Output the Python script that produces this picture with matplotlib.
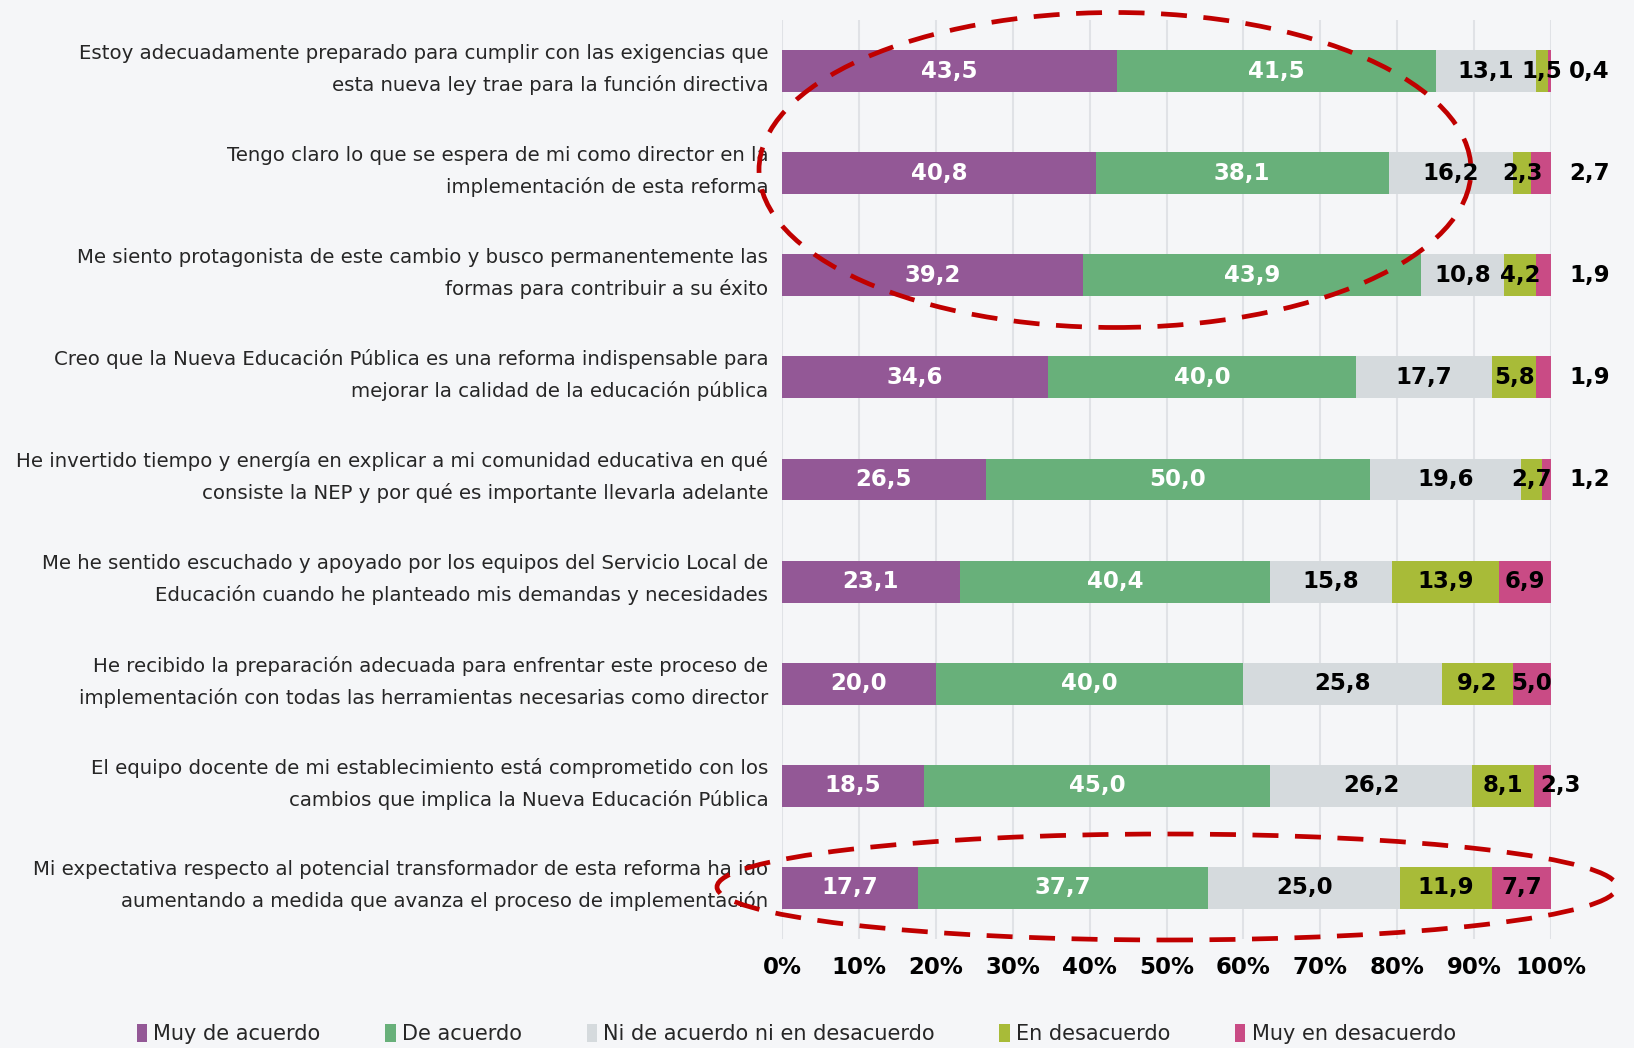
import matplotlib
matplotlib.use('Agg')
import matplotlib.pyplot as plt
from matplotlib import font_manager
from matplotlib.patches import Ellipse, Patch
import matplotlib.transforms as mtransforms
import numpy as np

# Survey statements (top to bottom)
statements = [
    'Estoy adecuadamente preparado para cumplir con las exigencias que\nesta nueva ley trae para la función directiva',
    'Tengo claro lo que se espera de mi como director en la\nimplementación de esta reforma',
    'Me siento protagonista de este cambio y busco permanentemente las\nformas para contribuir a su éxito',
    'Creo que la Nueva Educación Pública es una reforma indispensable para\nmejorar la calidad de la educación pública',
    'He invertido tiempo y energía en explicar a mi comunidad educativa en qué\nconsiste la NEP y por qué es importante llevarla adelante',
    'Me he sentido escuchado y apoyado por los equipos del Servicio Local de\nEducación cuando he planteado mis demandas y necesidades',
    'He recibido la preparación adecuada para enfrentar este proceso de\nimplementación con todas las herramientas necesarias como director',
    'El equipo docente de mi establecimiento está comprometido con los\ncambios que implica la Nueva Educación Pública',
    'Mi expectativa respecto al potencial transformador de esta reforma ha ido\naumentando a medida que avanza el proceso de implementación',
]

categories = ['Muy de acuerdo', 'De acuerdo', 'Ni de acuerdo ni en desacuerdo',
              'En desacuerdo', 'Muy en desacuerdo']

muy_de_acuerdo = [43.5, 40.8, 39.2, 34.6, 26.5, 23.1, 20.0, 18.5, 17.7]
de_acuerdo = [41.5, 38.1, 43.9, 40.0, 50.0, 40.4, 40.0, 45.0, 37.7]
neutral = [13.1, 16.2, 10.8, 17.7, 19.6, 15.8, 25.8, 26.2, 25.0]
en_desacuerdo = [1.5, 2.3, 4.2, 5.8, 2.7, 13.9, 9.2, 8.1, 11.9]
muy_en_desacuerdo = [0.4, 2.7, 1.9, 1.9, 1.2, 6.9, 5.0, 2.3, 7.7]

series = [muy_de_acuerdo, de_acuerdo, neutral, en_desacuerdo, muy_en_desacuerdo]
colors = ['#935896', '#68b07a', '#d5dadd', '#a8bb38', '#c94b85']
label_colors = ['white', 'white', 'black', 'black', 'black']

# pick a narrow font if available
names = {f.name for f in font_manager.fontManager.ttflist}
if 'Liberation Sans Narrow' in names:
    fam = ['Liberation Sans Narrow', 'DejaVu Sans']
    fs_lab, fs_val, fs_leg = 18, 22, 18
else:
    fam = ['DejaVu Sans']
    fs_lab, fs_val, fs_leg = 14.2, 16.5, 15
plt.rcParams['font.family'] = fam

bg = '#f5f6f8'
fig = plt.figure(figsize=(16.34, 10.48), dpi=100, facecolor=bg)
ax = fig.add_axes([782 / 1634, 1 - 939 / 1048, (1551 - 782) / 1634, (939 - 20) / 1048])
ax.set_facecolor(bg)

y = np.arange(len(statements))
left = np.zeros(len(statements))
for vals, col in zip(series, colors):
    vals = np.array(vals)
    ax.barh(y, vals, left=left, height=0.41, color=col, zorder=3)
    left = left + vals

# value labels
left = np.zeros(len(statements))
for k, (vals, tcol) in enumerate(zip(series, label_colors)):
    for i, v in enumerate(vals):
        txt = f'{v:.1f}'.replace('.', ',')
        xpos = left[i] + v / 2
        if k == 4 and v < 3:
            # small last segments: label pushed to the right of the bar
            xpos = 105 if i < 5 else 101.3
        ax.text(xpos, i, txt, ha='center', va='center', color=tcol,
                fontsize=fs_val, fontweight='bold', zorder=4)
    left = left + np.array(vals)

ax.set_xlim(0, 100)
ax.set_ylim(8.5, -0.5)
ax.set_xticks(np.arange(0, 101, 10))
ax.set_xticklabels([f'{t}%' for t in range(0, 101, 10)], fontsize=fs_val, fontweight='bold')
ax.set_yticks(y)
ax.set_yticklabels([])
ax.tick_params(axis='both', length=0)
ax.tick_params(axis='x', pad=12)
ax.grid(axis='x', color='#e0e2e6', linewidth=1.5, zorder=0)
for s in ax.spines.values():
    s.set_visible(False)

# statement labels, right aligned next to the bars
trans = mtransforms.blended_transform_factory(ax.transAxes, ax.transData)
for i, s in enumerate(statements):
    ax.text(-0.018, i - 0.02, s, transform=trans, ha='right', va='center',
            fontsize=fs_lab, color='#262626', linespacing=1.75)

# legend
handles = [Patch(facecolor=c, label=l) for c, l in zip(colors, categories)]
fig.legend(handles=handles, loc='center left', bbox_to_anchor=(118 / 1634, 1 - 1034 / 1048),
           ncol=5, frameon=False, fontsize=fs_leg, handlelength=0.5, handleheight=1.0,
           handletextpad=0.3, columnspacing=3.1, labelcolor='#262626')

# red dashed highlight ellipses
for cx, cy, w, h in [(1115, 170, 712, 315), (1167, 887, 900, 106)]:
    e = Ellipse((cx / 1634, 1 - cy / 1048), w / 1634, h / 1048, transform=fig.transFigure,
                fill=False, edgecolor='#c00000', linewidth=3.4, linestyle=(0, (5.5, 3.5)), zorder=10)
    fig.add_artist(e)

fig.savefig('out.png', dpi=100, facecolor=bg)
